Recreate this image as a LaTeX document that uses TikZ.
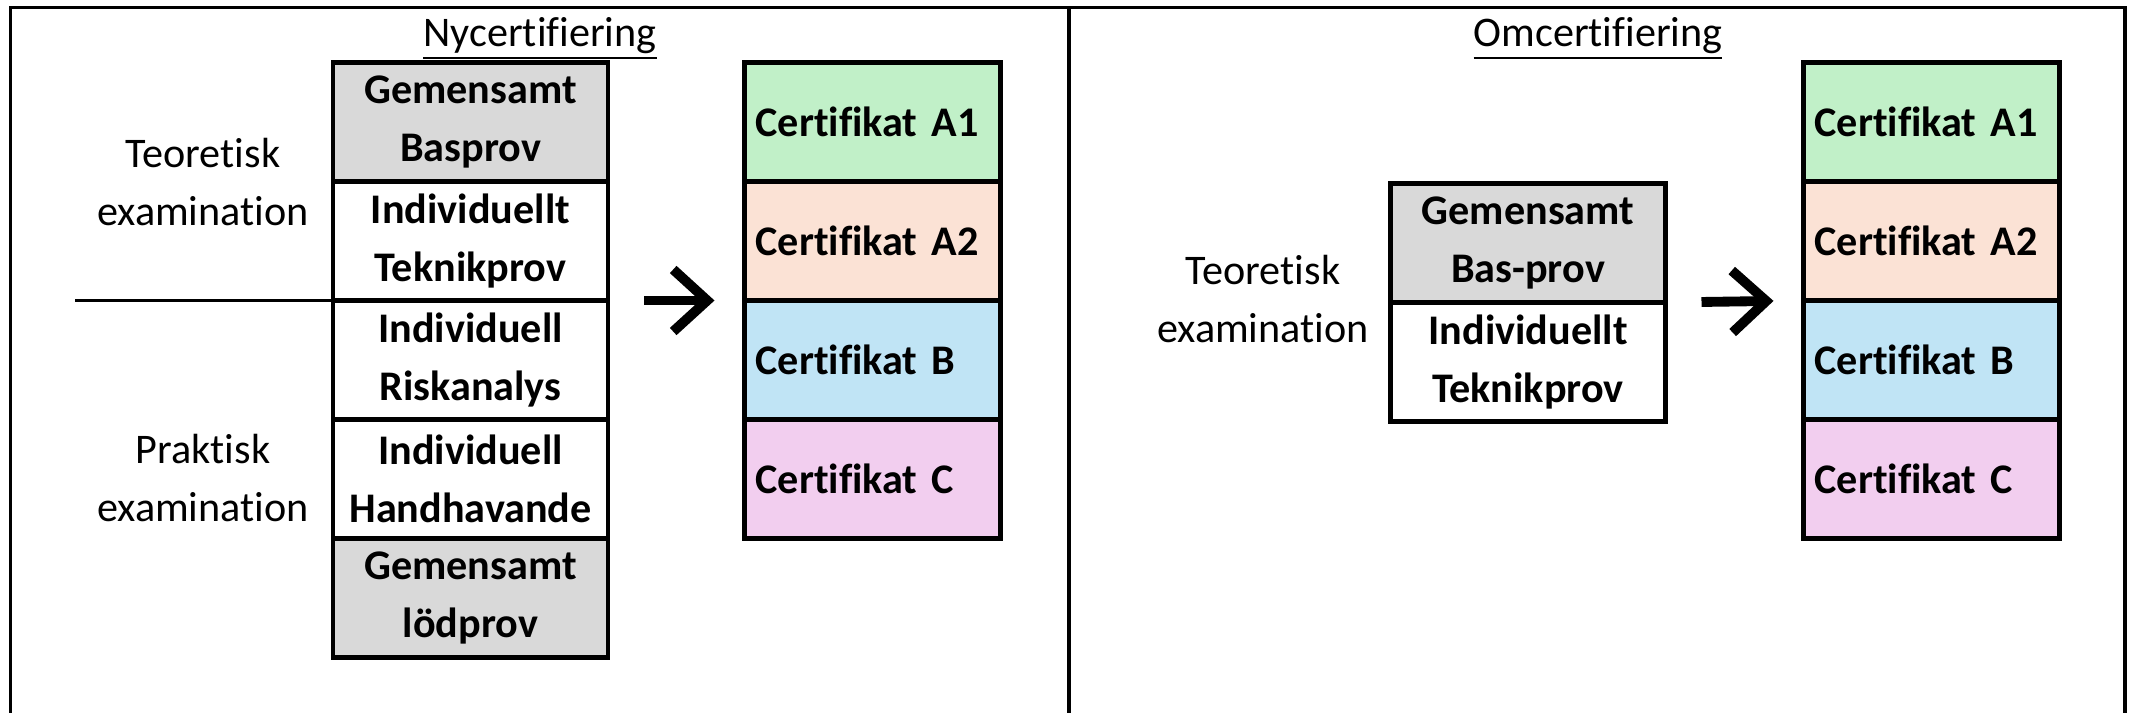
\documentclass[tikz,border=0pt]{standalone}
\usepackage{fontspec}
\setmainfont{Carlito}[Ligatures=NoCommon, WordSpace=0.85]
\usetikzlibrary{positioning,arrows.meta}
\definecolor{grayfill}{HTML}{D9D9D9}
\definecolor{greenfill}{HTML}{C1F0C8}
\definecolor{peachfill}{HTML}{FBE2D5}
\definecolor{bluefill}{HTML}{C0E4F5}
\definecolor{pinkfill}{HTML}{F2CEEF}

\begin{document}
\begin{tikzpicture}[main/.style = {draw, line width=1.3pt, minimum width=2.75cm, minimum height=1.19cm, inner sep=0, outer sep=0, align=center, font=\fontsize{12}{16.4}\selectfont\bfseries}, node distance={0pt},
  graynode/.style={main, fill=grayfill},
  whitenode/.style={main, fill=white},
  certnode/.style={main, minimum width=2.56cm, text width=2.34cm, inner xsep=0.11cm, align=left},
  greennode/.style={certnode, fill=greenfill},
  peachnode/.style={certnode, fill=peachfill},
  bluenode/.style={certnode, fill=bluefill},
  pinknode/.style={certnode, fill=pinkfill},
  sidetext/.style={align=center, font=\fontsize{12}{16.7}\selectfont},
  heading/.style={anchor=base, font=\fontsize{12}{14}\selectfont},
  borderline/.style={line width=1pt},
  bigarrow/.style={-{Straight Barb[length=3.4mm, width=6.2mm]}, line width=2.8pt, shorten <=0.36cm, shorten >=0.3cm}]
        \useasboundingbox (0,0) rectangle (21.30,-7.13);
        \draw[borderline] (0.105,-7.13) |- (21.25,-0.075) -- (21.25,-7.13);
        \draw[borderline] (10.69,-0.075) -- (10.69,-7.13);
        \node[heading] (ny) at (5.40,-0.46) {\underline{Nycertifiering}};
        \node[heading] (om) at (15.98,-0.46) {\underline{Omcertifiering}};
        \node[graynode] (1) at (4.705,-1.22) {Gemensamt\\Basprov};
        \node[whitenode] (2) [below=of 1] {Individuellt\\Teknikprov};
        \node[whitenode] (3) [below=of 2] {Individuell\\Riskanalys};
        \node[whitenode] (4) [below=of 3] {Individuell\\Handhavande};
        \node[graynode] (5) [below=of 4] {Gemensamt\\lödprov};
        \node[sidetext] (teo) at (2.03,-1.82) {Teoretisk\\examination};
        \node[sidetext] (prak) at (2.03,-4.78) {Praktisk\\examination};
        \coordinate (cut) at (0.75,-3.02);
        \draw[line width=0.85pt] (cut |- 2.south west) -- (2.south west);
        \node[greennode] (c1) at (8.725,-1.22) {Certifikat A1};
        \node[peachnode] (c2) [below=of c1] {Certifikat A2};
        \node[bluenode] (c3) [below=of c2] {Certifikat B};
        \node[pinknode] (c4) [below=of c3] {Certifikat C};
        \draw[bigarrow] (2.south east) -- (c2.south west);
        \node[graynode] (r1) at (15.28,-2.43) {Gemensamt\\Bas-prov};
        \node[whitenode] (r2) [below=of r1] {Individuellt\\Teknikprov};
        \node[sidetext] (rteo) at (12.63,-2.99) {Teoretisk\\examination};
        \node[greennode] (d1) at (19.315,-1.22) {Certifikat A1};
        \node[peachnode] (d2) [below=of d1] {Certifikat A2};
        \node[bluenode] (d3) [below=of d2] {Certifikat B};
        \node[pinknode] (d4) [below=of d3] {Certifikat C};
        \draw[bigarrow] (r1.south east) -- (d2.south west);
    \end{tikzpicture}
\end{document}
